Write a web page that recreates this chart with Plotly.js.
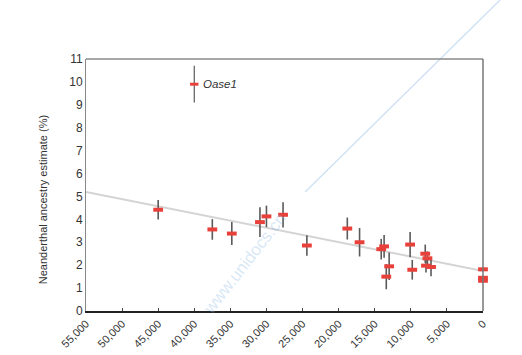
<!DOCTYPE html>
<html>
<head>
<meta charset="utf-8">
<script src="https://cdn.plot.ly/plotly-3.0.1.min.js"></script>
<style>html,body{margin:0;padding:0;background:#fff}#chart{width:522px;height:355px}</style>
</head>
<body>
<div id="chart"></div>
<script>
// Sample ages (years before present)
const ages = [45000, 37500, 34800, 30900, 30000, 27700, 24400, 18800, 17100, 14100, 13700, 13000, 13400, 10100, 9800, 8000, 7700, 7900, 7200, 0, 0, 0];
// Neanderthal ancestry estimate (%)
const ancestry = [4.42, 3.56, 3.38, 3.88, 4.13, 4.2, 2.86, 3.6, 3.0, 2.7, 2.82, 1.95, 1.5, 2.9, 1.8, 2.5, 2.3, 1.98, 1.92, 1.82, 1.45, 1.32];
// Error (+/-)
const errors = [0.43, 0.45, 0.5, 0.65, 0.47, 0.55, 0.45, 0.48, 0.62, 0.45, 0.5, 0.6, 0.55, 0.55, 0.43, 0.4, 0.3, 0.3, 0.4, 0.08, 0.08, 0.08];

// Oase1 outlier
const oaseAge = [40000];
const oaseAncestry = [9.9];
const oaseError = [0.8];
const oaseLabel = "Oase1";

// Regression line
const fitAges = [55000, 0];
const fitAncestry = [5.2, 1.75];

// Ticks
const xTickVals = [55000, 50000, 45000, 40000, 35000, 30000, 25000, 20000, 15000, 10000, 5000, 0];
const yTickVals = [0, 1, 2, 3, 4, 5, 6, 7, 8, 9, 10, 11];
const yTitle = "Neanderthal ancestry estimate (%)";
const watermark = "www.unidocs.cn";

const red = "#e8403a";
const errColor = "#5a5a5a";
const font = "Liberation Sans, Arial, Helvetica, sans-serif";

const traces = [
  {
    x: fitAges, y: fitAncestry, mode: "lines", type: "scatter",
    line: {color: "#d4d4d4", width: 2}, hoverinfo: "skip", showlegend: false
  },
  {
    x: ages, y: ancestry, mode: "markers", type: "scatter", cliponaxis: false,
    error_y: {type: "data", array: errors, visible: true, color: errColor, thickness: 1.6, width: 0},
    marker: {symbol: "line-ew", size: 7, color: red, line: {color: red, width: 4}},
    showlegend: false
  },
  {
    x: oaseAge, y: oaseAncestry, mode: "markers", type: "scatter", cliponaxis: false,
    error_y: {type: "data", array: oaseError, visible: true, color: errColor, thickness: 1.2, width: 0},
    marker: {symbol: "line-ew", size: 6, color: red, line: {color: red, width: 3}},
    showlegend: false
  }
];

const layout = {
  width: 522, height: 355,
  margin: {l: 86, r: 39, t: 59, b: 44, pad: 0},
  paper_bgcolor: "#fff", plot_bgcolor: "#fff",
  font: {family: font, size: 11, color: "#333"},
  showlegend: false,
  xaxis: {
    range: [55000, 0], autorange: false,
    tickvals: xTickVals, tickformat: ",d", tickangle: -45,
    ticks: "inside", ticklen: 3, tickcolor: "#444",
    showgrid: false, zeroline: false,
    showline: true, linecolor: "#222", linewidth: 2,
    tickfont: {family: font, size: 11, color: "#333"}
  },
  yaxis: {
    range: [0, 11], autorange: false,
    tickvals: yTickVals,
    ticks: "", showgrid: false, zeroline: false,
    showline: true, linecolor: "#888", linewidth: 1,
    tickfont: {family: font, size: 12, color: "#333"}
  },
  shapes: [
    {type: "line", xref: "paper", yref: "paper", x0: 0, x1: 1, y0: 1, y1: 1, line: {color: "#8a8a8a", width: 1.5}},
    {type: "line", xref: "paper", yref: "paper", x0: 1, x1: 1, y0: 0, y1: 1, line: {color: "#777", width: 1.5}},
    {type: "line", xref: "paper", yref: "paper", x0: 0.552, y0: 0.472, x1: 1.043, y1: 1.234, line: {color: "rgba(150,190,230,0.45)", width: 1.5}, layer: "below"}
  ],
  annotations: [
    {x: oaseAge[0], y: oaseAncestry[0], xref: "x", yref: "y", text: "<i>" + oaseLabel + "</i>",
     showarrow: false, xanchor: "left", xshift: 7, font: {family: font, size: 11.5, color: "#333"}},
    {xref: "paper", yref: "paper", x: -0.108, y: 0.44, text: yTitle, showarrow: false, textangle: -90,
     xanchor: "center", yanchor: "middle", font: {family: font, size: 11, color: "#333"}},
    {xref: "paper", yref: "paper", x: 0.40, y: 0.19, xanchor: "center", yanchor: "middle", text: watermark, showarrow: false, textangle: -52,
     font: {family: font, size: 17, color: "rgba(140,185,230,0.35)"}}
  ]
};

Plotly.newPlot("chart", traces, layout, {staticPlot: true, displayModeBar: false});
</script>
</body>
</html>
